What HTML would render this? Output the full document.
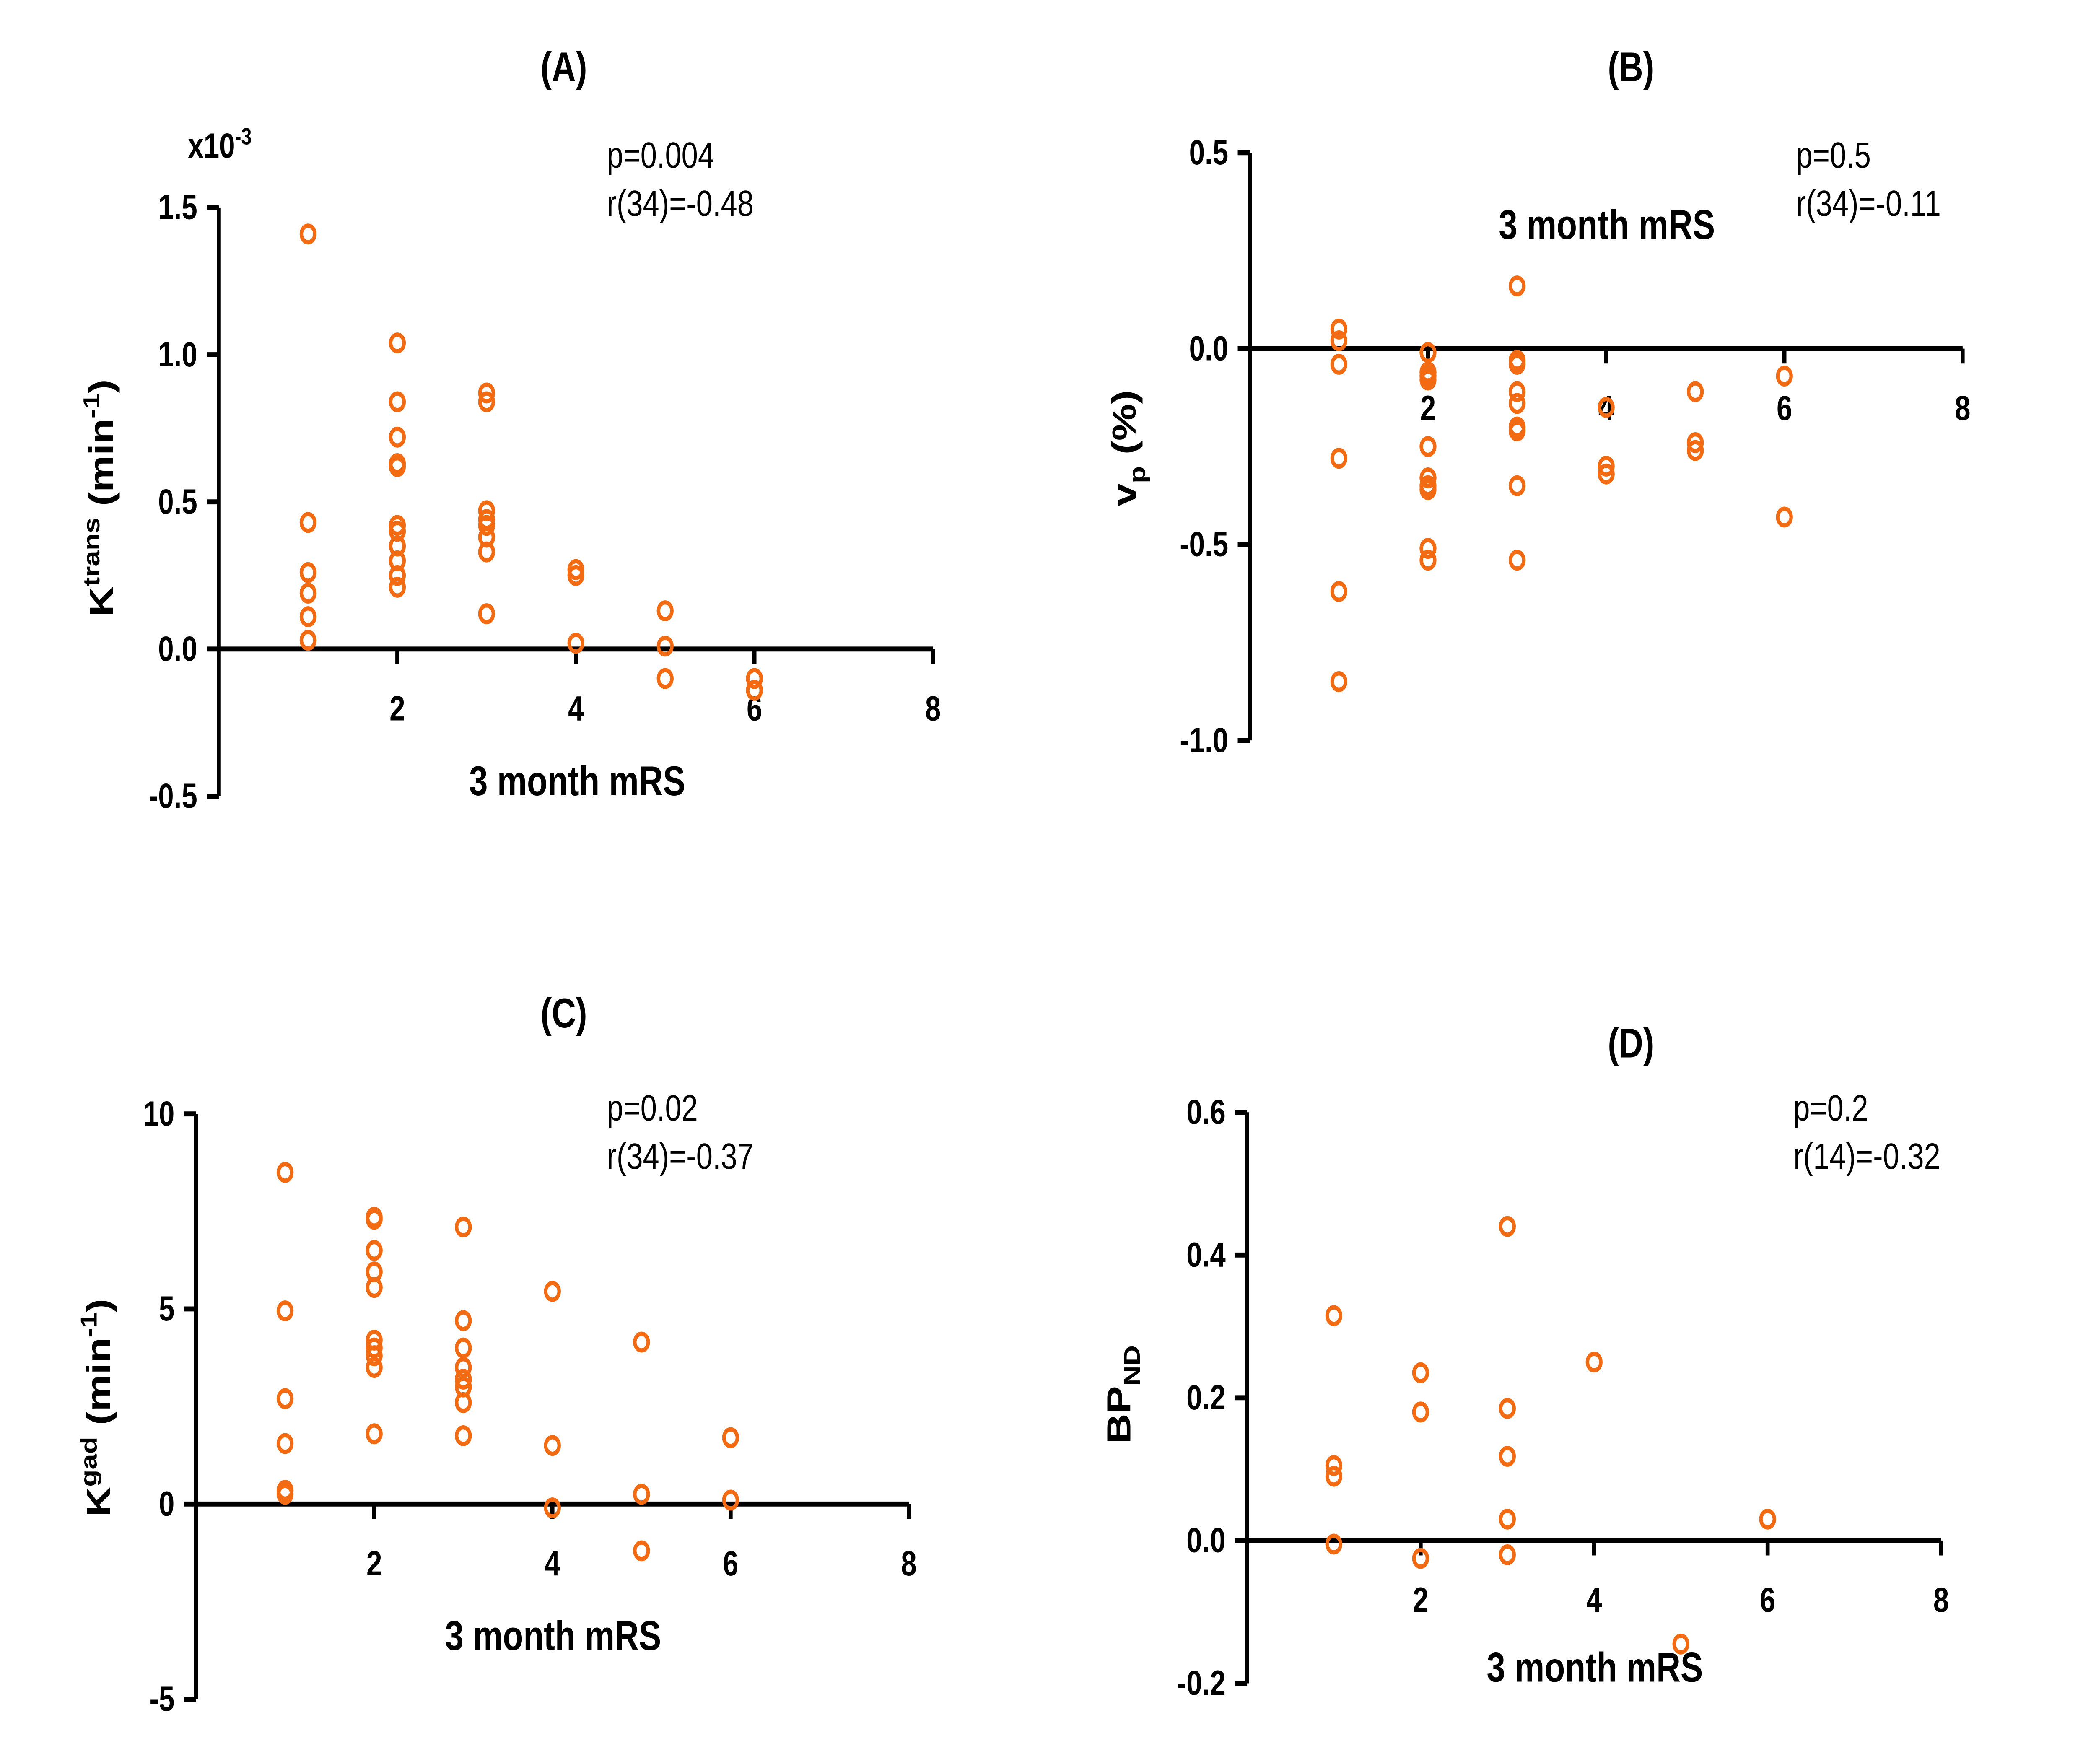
<!DOCTYPE html>
<html><head><meta charset="utf-8"><style>
html,body{margin:0;padding:0;background:#fff;overflow:hidden;width:100%;height:100%;}
svg{display:block;position:absolute;left:0;top:0;width:100vw;height:100vh;}
text{font-family:"Liberation Sans",Arial,sans-serif;fill:#000;}
.t{font-weight:bold;font-size:21px;}
.al{font-weight:bold;font-size:25px;}
.an{font-size:22px;}
</style></head><body>
<svg id="root" viewBox="0 0 1545.75 1052" preserveAspectRatio="none" xmlns="http://www.w3.org/2000/svg">
<rect width="1545.75" height="1052" fill="#fff"/>
<g id="fig" transform="scale(0.99)">
<text class="al" x="420" y="49" text-anchor="middle">(A)</text>
<text class="al" x="1215" y="49" text-anchor="middle">(B)</text>
<text class="al" x="420" y="619" text-anchor="middle">(C)</text>
<text class="al" x="1215" y="637" text-anchor="middle">(D)</text>
<text class="t" x="140" y="95">x10<tspan dy="-8" font-size="14">-3</tspan></text>
<text class="an" x="452" y="101">p=0.004</text>
<text class="an" x="452" y="130">r(34)=-0.48</text>
<text class="an" x="1338" y="101">p=0.5</text>
<text class="an" x="1338" y="130">r(34)=-0.11</text>
<text class="an" x="452" y="675">p=0.02</text>
<text class="an" x="452" y="704">r(34)=-0.37</text>
<text class="an" x="1336" y="675">p=0.2</text>
<text class="an" x="1336" y="704">r(14)=-0.32</text>
<text class="al" transform="translate(84,300) rotate(-90)" text-anchor="middle">K<tspan dy="-10" font-size="17">trans</tspan><tspan dy="10"> (min</tspan><tspan dy="-10" font-size="17">-1</tspan><tspan dy="10">)</tspan></text>
<text class="al" transform="translate(846,270) rotate(-90)" text-anchor="middle">v<tspan dy="7" font-size="17">p</tspan><tspan dy="-7"> (%)</tspan></text>
<text class="al" transform="translate(82,848) rotate(-90)" text-anchor="middle">K<tspan dy="-10" font-size="17">gad</tspan><tspan dy="10"> (min</tspan><tspan dy="-10" font-size="17">-1</tspan><tspan dy="10">)</tspan></text>
<text class="al" transform="translate(842,840) rotate(-90)" text-anchor="middle">BP<tspan dy="7" font-size="17">ND</tspan></text>
</g>
</svg>
<script>
const aX=[1,1,1,1,1,1,2,2,2,2,2,2,2,2,2,2,2,3,3,3,3,3,3,3,3,4,4,4,5,5,5,6,6];
const aY=[1.41,0.43,0.26,0.19,0.11,0.03,1.04,0.84,0.72,0.63,0.62,0.42,0.40,0.35,0.30,0.25,0.21,0.87,0.84,0.47,0.44,0.42,0.38,0.33,0.12,0.27,0.25,0.02,0.13,0.01,-0.10,-0.10,-0.14];
const bX=[1,1,1,1,1,1,2,2,2,2,2,2,2,2,2,2,3,3,3,3,3,3,3,3,3,4,4,4,5,5,5,6,6];
const bY=[0.05,0.02,-0.04,-0.28,-0.62,-0.85,-0.01,-0.06,-0.07,-0.08,-0.25,-0.33,-0.35,-0.36,-0.51,-0.54,0.16,-0.03,-0.04,-0.11,-0.14,-0.20,-0.21,-0.35,-0.54,-0.15,-0.30,-0.32,-0.11,-0.24,-0.26,-0.07,-0.43];
const cX=[1,1,1,1,1,1,2,2,2,2,2,2,2,2,2,2,3,3,3,3,3,3,3,3,4,4,4,5,5,5,6,6];
const cY=[8.5,4.95,2.7,1.55,0.35,0.25,7.35,7.3,6.5,5.95,5.55,4.2,4.0,3.8,3.5,1.8,7.1,4.7,4.0,3.5,3.2,3.0,2.6,1.75,5.45,1.5,-0.1,4.15,0.25,-1.2,1.7,0.1];
const dX=[1,1,1,1,2,2,2,3,3,3,3,3,4,5,6];
const dY=[0.315,0.105,0.09,-0.005,0.235,0.18,-0.025,0.44,0.185,0.118,0.03,-0.02,0.25,-0.145,0.03];
const aTicks=["1.5","1.0","0.5","0.0","-0.5"], aTickV=[1.5,1.0,0.5,0,-0.5];
const bTicks=["0.5","0.0","-0.5","-1.0"], bTickV=[0.5,0,-0.5,-1.0];
const cTicks=["10","5","0","-5"], cTickV=[10,5,0,-5];
const dTicks=["0.6","0.4","0.2","0.0","-0.2"], dTickV=[0.6,0.4,0.2,0,-0.2];
const xTickV=[2,4,6,8];

const svg=document.getElementById('fig');
const NS='http://www.w3.org/2000/svg';
function mk(tag,attrs,txt){const e=document.createElementNS(NS,tag);for(const k in attrs)e.setAttribute(k,attrs[k]);if(txt!==undefined)e.textContent=txt;svg.appendChild(e);return e;}

function panel(id,P,xs,ys,tl,tv,xlab){
  const sx=v=>P.x0+v*(P.x8-P.x0)/8;
  const sy=v=>P.yz+(v-0)*(P.yTop-P.yz)/P.vTop;
  let e=mk('line',{x1:P.x0,y1:sy(tv[tv.length-1]),x2:P.x0,y2:sy(tv[0]),stroke:'#000','stroke-width':3});
  
  
  e=mk('line',{x1:P.x0,y1:P.yz,x2:P.x8,y2:P.yz,stroke:'#000','stroke-width':3});
  
  
  tv.forEach((v,i)=>{
    const y=sy(v);
    let t=mk('line',{x1:P.x0-9,y1:y,x2:P.x0,y2:y,stroke:'#000','stroke-width':3});
    
    
    t=mk('text',{x:P.x0-16,y:y+7,'text-anchor':'end','class':'t'},tl[i]);
    
    
  });
  xTickV.forEach(v=>{
    const x=sx(v);
    let t=mk('line',{x1:x,y1:P.yz,x2:x,y2:P.yz+9,stroke:'#000','stroke-width':3});
    
    
    t=mk('text',{x:x,y:P.yz+43,'text-anchor':'middle','class':'t'},String(v));
    
    
  });
  e=mk('text',{x:xlab[0],y:xlab[1],'text-anchor':'middle','class':'al'},'3 month mRS');
  
  
  xs.forEach((xv,i)=>{
    const c=mk('circle',{cx:sx(xv),cy:sy(ys[i]),r:5,fill:'none',stroke:'#f26b12','stroke-width':2.6});
    
    
  });
}
panel('panel-a',{x0:163,x8:695,yz:391,yTop:125,vTop:1.5},aX,aY,aTicks,aTickV,[430,479]);
panel('panel-b',{x0:931,x8:1462,yz:210,yTop:92,vTop:0.5},bX,bY,bTicks,bTickV,[1197,144]);
panel('panel-c',{x0:146,x8:677,yz:906,yTop:671,vTop:10},cX,cY,cTicks,cTickV,[412,994]);
panel('panel-d',{x0:929,x8:1446,yz:928,yTop:670,vTop:0.6},dX,dY,dTicks,dTickV,[1188,1013]);
</script>
</body></html>
